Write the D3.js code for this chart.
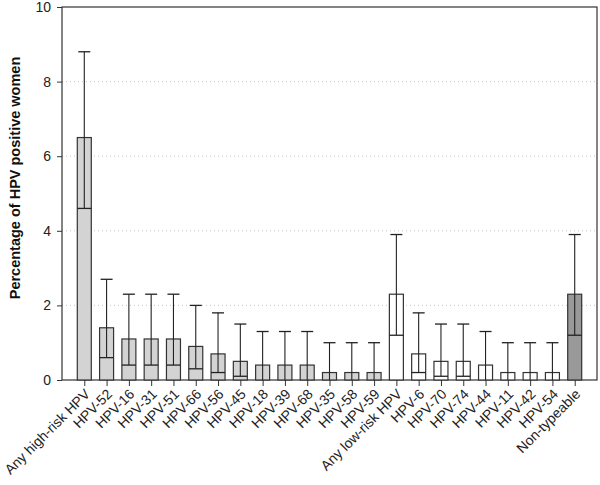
<!DOCTYPE html>
<html><head><meta charset="utf-8">
<script src="https://cdn.jsdelivr.net/npm/d3@7"></script>
<style>body{margin:0;background:#fff}svg{display:block;font-family:"Liberation Sans",Arial,sans-serif}</style>
</head><body><svg id="c" width="600" height="485"></svg>
<script>
const categories = ["Any high-risk HPV","HPV-52","HPV-16","HPV-31","HPV-51","HPV-66","HPV-56","HPV-45","HPV-18","HPV-39","HPV-68","HPV-35","HPV-58","HPV-59","Any low-risk HPV","HPV-6","HPV-70","HPV-74","HPV-44","HPV-11","HPV-42","HPV-54","Non-typeable"];
const values = [6.5,1.4,1.1,1.1,1.1,0.9,0.7,0.5,0.4,0.4,0.4,0.2,0.2,0.2,2.3,0.7,0.5,0.5,0.4,0.2,0.2,0.2,2.3];
const lower  = [4.6,0.6,0.4,0.4,0.4,0.3,0.2,0.1,0.0,0.0,0.0,0.0,0.0,0.0,1.2,0.2,0.1,0.1,0.0,0.0,0.0,0.0,1.2];
const upper  = [8.8,2.7,2.3,2.3,2.3,2.0,1.8,1.5,1.3,1.3,1.3,1.0,1.0,1.0,3.9,1.8,1.5,1.5,1.3,1.0,1.0,1.0,3.9];
const groups = ["high","high","high","high","high","high","high","high","high","high","high","high","high","high","low","low","low","low","low","low","low","low","nt"];
const yTicks = [0,2,4,6,8,10];

const fillOf = {high:"#d3d3d3", low:"#ffffff", nt:"#999999"};
const L=62, R=597, T=7, B=380;
const svg = d3.select("#c");
const x = d3.scaleLinear().domain([0, categories.length+1]).range([L,R]);
const y = d3.scaleLinear().domain([0,10]).range([B,T]);
const bw = 14, cw = 12;

// grid
svg.append("g").selectAll("line").data(yTicks.filter(t=>t>0&&t<10)).join("line")
  .attr("x1",L).attr("x2",R).attr("y1",d=>y(d)).attr("y2",d=>y(d))
  .attr("stroke","#c8c8c8").attr("stroke-width",1).attr("stroke-dasharray","1,3");

// frame
svg.append("rect").attr("x",L).attr("y",T).attr("width",R-L).attr("height",B-T)
  .attr("fill","none").attr("stroke","#333").attr("stroke-width",1.2);

const data = categories.map((c,i)=>({c,i,v:values[i],lo:lower[i],hi:upper[i],g:groups[i]}));
const g = svg.append("g");
g.selectAll("rect.bar").data(data).join("rect").attr("class","bar")
  .attr("x",d=>x(d.i+1)-bw/2).attr("width",bw)
  .attr("y",d=>y(d.v)).attr("height",d=>y(0)-y(d.v))
  .attr("fill",d=>fillOf[d.g]).attr("stroke","#333").attr("stroke-width",1.2);
g.selectAll("line.err").data(data).join("line").attr("class","err")
  .attr("x1",d=>x(d.i+1)).attr("x2",d=>x(d.i+1))
  .attr("y1",d=>y(d.lo)).attr("y2",d=>y(d.hi)).attr("stroke","#222").attr("stroke-width",1.1);
g.selectAll("line.capH").data(data).join("line").attr("class","capH")
  .attr("x1",d=>x(d.i+1)-cw/2).attr("x2",d=>x(d.i+1)+cw/2)
  .attr("y1",d=>y(d.hi)).attr("y2",d=>y(d.hi)).attr("stroke","#222").attr("stroke-width",1.3);
g.selectAll("line.capL").data(data.filter(d=>d.lo>0)).join("line").attr("class","capL")
  .attr("x1",d=>x(d.i+1)-bw/2).attr("x2",d=>x(d.i+1)+bw/2)
  .attr("y1",d=>y(d.lo)).attr("y2",d=>y(d.lo)).attr("stroke","#222").attr("stroke-width",1.3);

// y axis
const ya = svg.append("g").attr("transform",`translate(${L},0)`)
  .call(d3.axisLeft(y).tickValues(yTicks).tickSize(5).tickPadding(6).tickFormat(d3.format("d")));
ya.select(".domain").remove();
ya.selectAll("line").attr("stroke","#333");
ya.selectAll("text").attr("font-size",14).attr("fill","#222");

// x axis
const xa = svg.append("g").attr("transform",`translate(0,${B})`)
  .call(d3.axisBottom(x).tickValues(d3.range(1,categories.length+1)).tickSize(6).tickFormat(i=>categories[i-1]));
xa.select(".domain").remove();
xa.selectAll("line").attr("stroke","#333");
xa.selectAll("text").attr("font-size",14).attr("fill","#222")
  .attr("text-anchor","end").attr("dy","0").attr("y",0)
  .attr("transform","translate(6,15) rotate(-45)");

// y label
svg.append("text").attr("transform",`translate(20,178) rotate(-90)`)
  .attr("text-anchor","middle").attr("font-size",14.5).attr("font-weight","bold").attr("fill","#111")
  .text("Percentage of HPV positive women");
</script></body></html>
